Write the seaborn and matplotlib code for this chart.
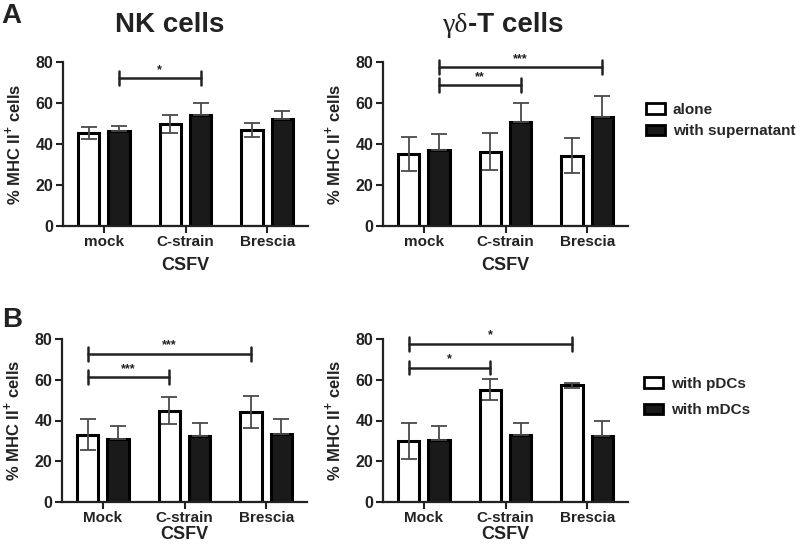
import matplotlib
matplotlib.use('Agg')
import matplotlib.pyplot as plt
import seaborn as sns
import pandas as pd
import numpy as np
from matplotlib.patches import Patch

# ---------------- data ----------------
categories_A = ['mock', 'C-strain', 'Brescia']
categories_B = ['Mock', 'C-strain', 'Brescia']
series_A = ['alone', 'with supernatant']
series_B = ['with pDCs', 'with mDCs']

nk_alone = [45.4, 49.8, 46.9]
nk_alone_sd = [3.0, 4.4, 3.6]
nk_sup = [46.5, 54.4, 52.1]
nk_sup_sd = [2.3, 5.9, 3.9]

gd_alone = [35.1, 36.2, 34.3]
gd_alone_sd = [8.2, 9.0, 8.4]
gd_sup = [37.2, 50.9, 53.1]
gd_sup_sd = [7.5, 9.3, 10.6]

nk_pdc = [33.0, 44.9, 44.1]
nk_pdc_sd = [7.5, 6.6, 7.8]
nk_mdc = [30.7, 32.6, 33.6]
nk_mdc_sd = [6.5, 6.0, 7.2]

gd_pdc = [30.0, 55.2, 57.2]
gd_pdc_sd = [9.0, 5.2, 1.2]
gd_mdc = [30.2, 32.8, 32.6]
gd_mdc_sd = [7.0, 6.0, 7.2]

# significance: (cat i, cat j, series index, y, label)
sig_A_nk = [(0, 1, 1, 72.2, '*')]
sig_A_gd = [(0, 1, 1, 68.9, '**'), (0, 2, 1, 77.6, '***')]
sig_B_nk = [(0, 1, 0, 61.3, '***'), (0, 2, 0, 72.8, '***')]
sig_B_gd = [(0, 1, 0, 66.0, '*'), (0, 2, 0, 77.7, '*')]

# ---------------- style ----------------
sns.set_style('ticks')
plt.rcParams['font.family'] = ['Liberation Sans', 'DejaVu Sans']
plt.rcParams['mathtext.fontset'] = 'custom'
plt.rcParams['mathtext.rm'] = 'Liberation Sans'
plt.rcParams['mathtext.bf'] = 'Liberation Sans:bold'

W, H = 800, 547
fig = plt.figure(figsize=(W / 100, H / 100), dpi=100)
fig.patch.set_facecolor('white')

WHITE = 'white'
BLACK = '#1a1a1a'
ERR = '#4a4a4a'


def make_ax(left, top, bottom, width=245):
    return fig.add_axes([left / W, 1 - bottom / H, width / W, (bottom - top) / H])


def panel(ax, cats, series, v0, s0, v1, s1, sigs, xlabel_y):
    df = pd.DataFrame({
        'cat': cats + cats,
        'series': [series[0]] * 3 + [series[1]] * 3,
        'val': v0 + v1,
    })
    sns.barplot(data=df, x='cat', y='val', hue='series', order=cats,
                hue_order=series, palette=[WHITE, BLACK], edgecolor='black',
                linewidth=2.2, width=0.74, gap=0.3, errorbar=None,
                legend=False, ax=ax, saturation=1, zorder=2)
    xs = []
    for cont in ax.containers:
        xs.append([b.get_x() + b.get_width() / 2 for b in cont])
    ax.errorbar(xs[0], v0, yerr=s0, fmt='none', ecolor=ERR, elinewidth=1.3,
                capsize=6, capthick=1.3, zorder=3)
    ax.errorbar(xs[1], v1, yerr=[np.zeros(3), s1], fmt='none', ecolor=ERR,
                elinewidth=1.3, capsize=6, capthick=1.3, zorder=3)
    for i, j, s, y, lab in sigs:
        x1, x2 = xs[s][i], xs[s][j]
        ax.plot([x1, x2], [y, y], color='#222222', lw=1.8, clip_on=False, zorder=4)
        for xx in (x1, x2):
            ax.plot([xx, xx], [y - 3.4, y + 3.4], color='#222222', lw=1.8,
                    clip_on=False, zorder=4)
        ax.text((x1 + x2) / 2, y + 1.0, lab, ha='center', va='bottom',
                fontsize=9, fontweight='bold', color='#222222')
    ax.set_xlim(-0.5, 2.5)
    ax.set_ylim(0, 80)
    ax.set_yticks([0, 20, 40, 60, 80])
    for sp in ('top', 'right'):
        ax.spines[sp].set_visible(False)
    for sp in ('left', 'bottom'):
        ax.spines[sp].set_linewidth(1.6)
        ax.spines[sp].set_color('#222222')
    ax.tick_params(axis='both', direction='out', length=5, width=1.5,
                   colors='#222222')
    ax.tick_params(axis='y', labelsize=11.5, pad=2)
    ax.tick_params(axis='x', labelsize=11, pad=1.5)
    for lab in ax.get_xticklabels() + ax.get_yticklabels():
        lab.set_fontweight('bold')
        lab.set_color('#222222')
    ax.set_ylabel(r'% MHC II$^{\mathbf{+}}$ cells', fontsize=12,
                  fontweight='bold', color='#222222')
    ax.yaxis.set_label_coords(-0.165, 0.5)
    ax.set_xlabel('CSFV', fontsize=13, fontweight='bold', color='#222222')
    ax.xaxis.set_label_coords(0.5, xlabel_y)
    ax.set_facecolor('white')


axA1 = make_ax(63, 62.3, 225.7)
axA2 = make_ax(383, 62.3, 225.7)
axB1 = make_ax(62, 339, 502)
axB2 = make_ax(383, 339, 502)

panel(axA1, categories_A, series_A, nk_alone, nk_alone_sd, nk_sup, nk_sup_sd,
      sig_A_nk, -0.19)
panel(axA2, categories_A, series_A, gd_alone, gd_alone_sd, gd_sup, gd_sup_sd,
      sig_A_gd, -0.19)
panel(axB1, categories_B, series_B, nk_pdc, nk_pdc_sd, nk_mdc, nk_mdc_sd,
      sig_B_nk, -0.145)
panel(axB2, categories_B, series_B, gd_pdc, gd_pdc_sd, gd_mdc, gd_mdc_sd,
      sig_B_gd, -0.145)

# legends
def legend(labels, top_px, left_px, spacing):
    handles = [Patch(facecolor=WHITE, edgecolor='black', linewidth=2),
               Patch(facecolor=BLACK, edgecolor='black', linewidth=2)]
    fig.legend(handles, labels, loc='upper left',
               bbox_to_anchor=(left_px / W, 1 - top_px / H),
               frameon=False, borderpad=0, borderaxespad=0,
               handlelength=1.25, handleheight=0.7, handletextpad=0.5,
               labelspacing=spacing,
               prop={'family': 'Liberation Sans', 'weight': 'bold', 'size': 11})

legend(series_A, 103, 646, 0.48)
legend(series_B, 377, 644, 0.81)

# titles and panel letters
fig.text(1 / W, 1 - 23 / H, 'A', fontsize=20, fontweight='bold', va='baseline',
         color='#222222')
fig.text(2 / W, 1 - 327 / H, 'B', fontsize=20, fontweight='bold', va='baseline',
         color='#222222')
fig.text(170 / W, 1 - 32 / H, 'NK cells', fontsize=20, fontweight='bold',
         ha='center', va='baseline', color='#222222')
t1 = fig.text(443 / W, 1 - 32 / H, 'γδ', fontsize=20, family='Liberation Serif',
              va='baseline', color='#222222')
fig.canvas.draw()
bb = t1.get_window_extent()
fig.text(bb.x1 / W, 1 - 32 / H, '-T cells', fontsize=20, fontweight='bold',
         va='baseline', color='#222222')

fig.savefig('out.png', dpi=100, facecolor='white')
